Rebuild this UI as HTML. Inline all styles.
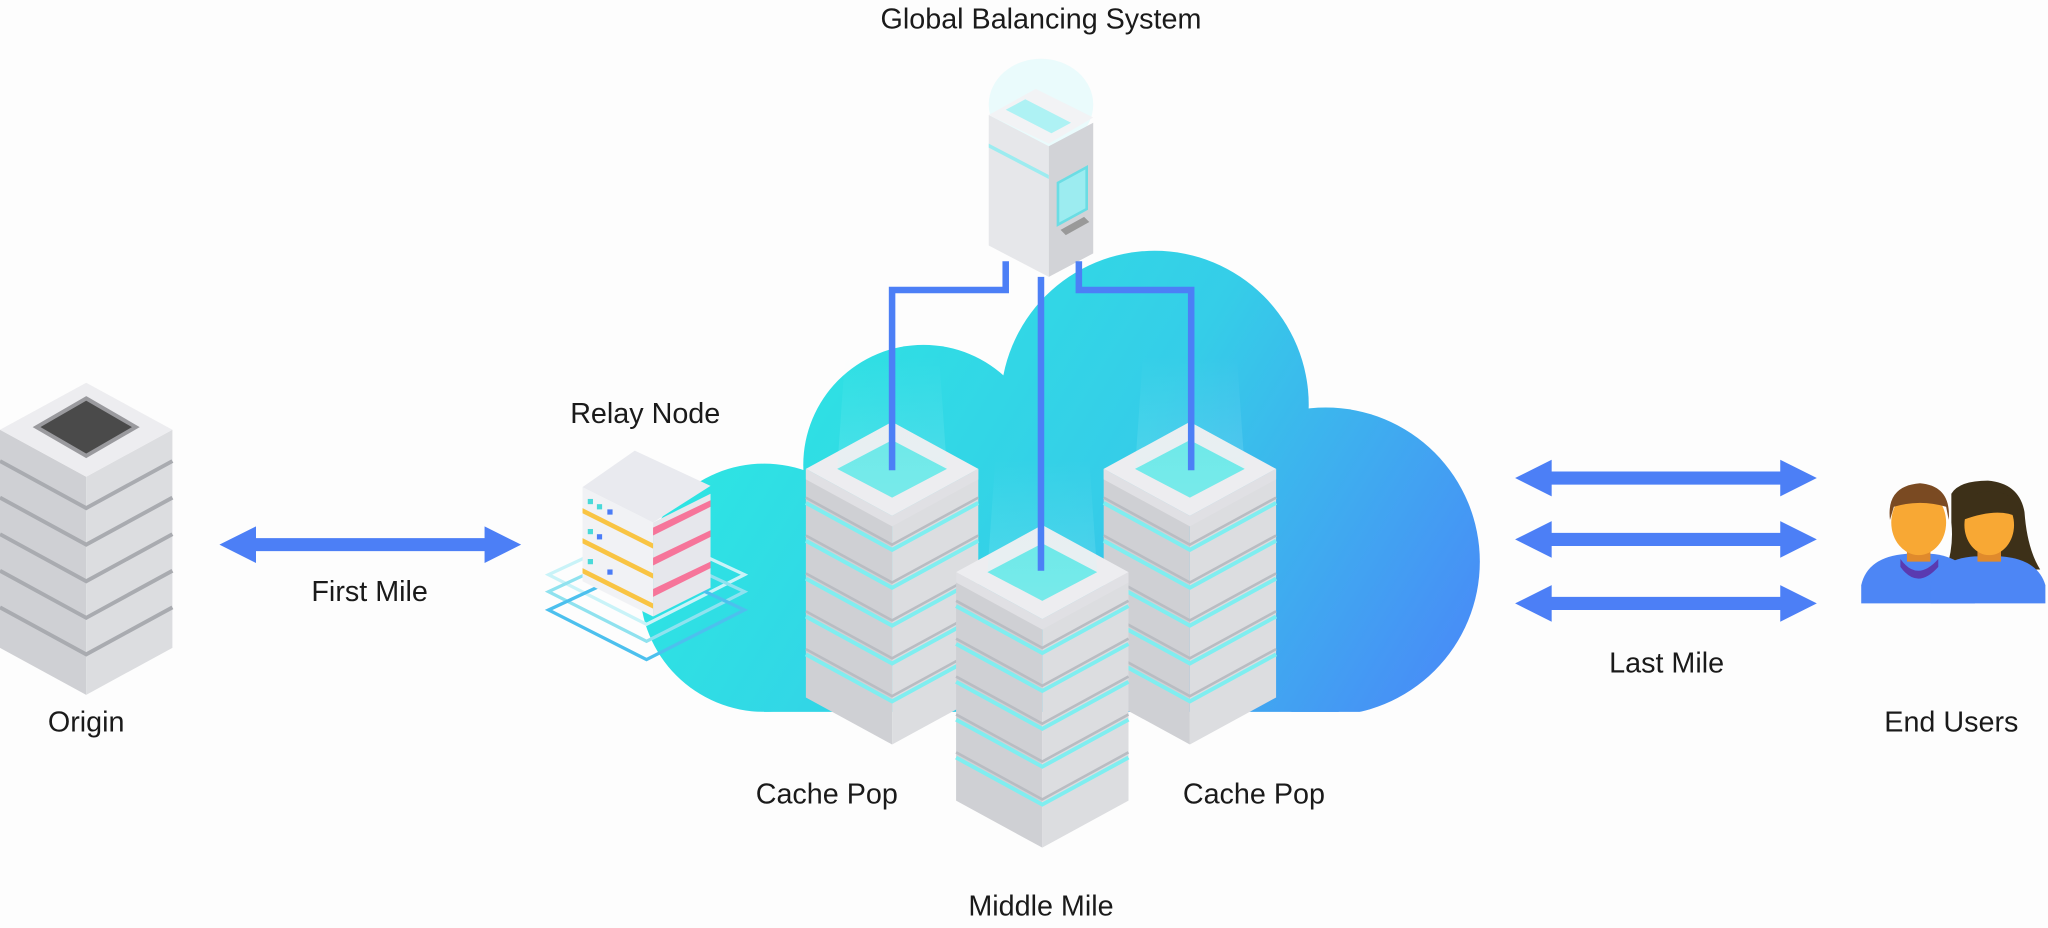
<!DOCTYPE html>
<html><head><meta charset="utf-8"><style>
html,body{margin:0;padding:0;background:#fdfdfd;}
svg{display:block}
text{font-family:"Liberation Sans",sans-serif;font-size:22px;fill:#1a1a1a;text-anchor:middle}
</style></head><body>
<svg width="2048" height="928" viewBox="0 0 1568 710.5" xmlns="http://www.w3.org/2000/svg">
<defs>
<linearGradient id="cg" gradientUnits="userSpaceOnUse" x1="560" y1="220" x2="1120" y2="560">
<stop offset="0" stop-color="#2ce8e2"/><stop offset="0.5" stop-color="#35cde8"/><stop offset="1" stop-color="#4a86f8"/>
</linearGradient>
<linearGradient id="beam" x1="0" y1="1" x2="0" y2="0">
<stop offset="0" stop-color="#c8fbfb" stop-opacity="0.6"/><stop offset="1" stop-color="#c8fbfb" stop-opacity="0"/>
</linearGradient>
<clipPath id="cc"><rect x="0" y="0" width="1568" height="545"/></clipPath>
<g id="cp">
<polygon points="0,36 66,72 66,247 0,211" fill="#cfd0d4"/>
<polygon points="66,72 132,36 132,211 66,247" fill="#dcdde0"/>
<g fill="none" stroke-width="3">
<polyline points="0,62 66,98 132,62" stroke="#7feef0"/>
<polyline points="0,91 66,127 132,91" stroke="#7feef0"/>
<polyline points="0,120 66,156 132,120" stroke="#7feef0"/>
<polyline points="0,149 66,185 132,149" stroke="#7feef0"/>
<polyline points="0,178 66,214 132,178" stroke="#7feef0"/>
<polyline points="0,58 66,94 132,58" stroke="#b9bcc2" stroke-width="2"/>
<polyline points="0,87 66,123 132,87" stroke="#b9bcc2" stroke-width="2"/>
<polyline points="0,116 66,152 132,116" stroke="#b9bcc2" stroke-width="2"/>
<polyline points="0,145 66,181 132,145" stroke="#b9bcc2" stroke-width="2"/>
<polyline points="0,174 66,210 132,174" stroke="#b9bcc2" stroke-width="2"/>
</g>
<polygon points="66,0 132,36 66,72 0,36" fill="#ededf0"/>
<polygon points="0,36 66,72 132,36 132,44 66,80 0,44" fill="#e0e0e4"/>
<polygon points="66,14 108,36 66,58 24,36" fill="#62e6e6"/>
<polygon points="30,-50 102,-50 108,36 66,58 24,36" fill="url(#beam)" opacity="0.35"/>
</g>
<g id="og">
<polygon points="0,36 66,72 66,239 0,203" fill="#cfd0d4"/>
<polygon points="66,72 132,36 132,203 66,239" fill="#dcdde0"/>
<g fill="none" stroke="#a9abb0" stroke-width="3">
<polyline points="0,60 66,96 132,60"/>
<polyline points="0,88 66,124 132,88"/>
<polyline points="0,116 66,152 132,116"/>
<polyline points="0,144 66,180 132,144"/>
<polyline points="0,172 66,208 132,172"/>
</g>
<polygon points="66,0 132,36 66,72 0,36" fill="#ededf0"/>
<polygon points="66,12 104,34 66,56 28,34" fill="#4a4a4a" stroke="#9a9a9e" stroke-width="3"/>
</g>
<g id="ar">
<polygon points="0,0 28,-14 28,-5 203,-5 203,-14 231,0 203,14 203,5 28,5 28,14" fill="#4c7ff6"/>
</g>
</defs>

<!-- cloud -->
<g fill="url(#cg)" clip-path="url(#cc)">
<circle cx="585" cy="450" r="95"/>
<circle cx="707" cy="356" r="92"/>
<circle cx="884" cy="310" r="118"/>
<circle cx="1015" cy="430" r="118"/>
<rect x="585" y="380" width="440" height="170"/>
<rect x="707" y="310" width="200" height="150"/>
</g>

<!-- origin -->
<use href="#og" x="0" y="293"/>

<!-- first mile arrow -->
<use href="#ar" x="168" y="417"/>

<!-- relay node -->
<g fill="none" stroke-width="2.5">
<polygon points="495,405 570,440 495,478 420,440" stroke="#c9f3f8" />
<polygon points="495,418 570,453 495,491 420,453" stroke="#8fe2ef"/>
<polygon points="495,432 570,467 495,505 420,467" stroke="#4cc0ee"/>
</g>
<g>
<polygon points="446,373 500,400 500,472 446,445" fill="#f1f2f5"/>
<polygon points="500,400 544,378 544,450 500,472" fill="#e6e7ec"/>
<polygon points="486,345 544,372 500,400 446,373" fill="#e9eaef"/>
<polygon points="500,404 544,383 544,388 500,410" fill="#f6759a"/>
<polygon points="500,427 544,406 544,411 500,433" fill="#f6759a"/>
<polygon points="500,451 544,430 544,435 500,457" fill="#f6759a"/>
<polygon points="446,389 500,416 500,420 446,393" fill="#f9c443"/>
<polygon points="446,412 500,439 500,443 446,416" fill="#f9c443"/>
<polygon points="446,435 500,462 500,466 446,439" fill="#f9c443"/>
<rect x="450" y="382" width="4" height="4" fill="#49d9d9"/><rect x="457" y="386" width="4" height="4" fill="#49d9d9"/><rect x="465" y="390" width="4" height="4" fill="#4a7cf7"/>
<rect x="450" y="405" width="4" height="4" fill="#49d9d9"/><rect x="457" y="409" width="4" height="4" fill="#4a7cf7"/>
<rect x="450" y="428" width="4" height="4" fill="#49d9d9"/><rect x="465" y="436" width="4" height="4" fill="#4a7cf7"/>
</g>

<!-- servers -->
<use href="#cp" x="617" y="323"/>
<use href="#cp" x="845" y="323"/>
<use href="#cp" x="732" y="402"/>

<!-- global balancing system -->
<ellipse cx="797" cy="80" rx="40" ry="35" fill="#d8fafc" opacity="0.5"/>
<polygon points="757,88 803,112 803,212 757,188" fill="#e6e7ea"/>
<polygon points="803,112 837,94 837,194 803,212" fill="#d2d3d7"/>
<polygon points="793,68 837,90 803,110 757,88" fill="#f2f3f5"/>
<polygon points="770,84 805,102 820,94 785,76" fill="#aef2f4"/>
<polygon points="757,110 803,134 803,137 757,113" fill="#9cecf0"/>
<polygon points="810,140 832,128 832,160 810,172" fill="#9cecf0" stroke="#6bdde4" stroke-width="2"/>
<polygon points="812,176 830,166 834,170 816,180" fill="#999"/>

<!-- connectors -->
<g fill="none" stroke="#4c7ff6" stroke-width="5">
<polyline points="770,200 770,222 683,222 683,360"/>
<polyline points="797,212 797,437"/>
<polyline points="826,200 826,222 912,222 912,360"/>
</g>

<!-- last mile arrows -->
<use href="#ar" x="1160" y="366"/>
<use href="#ar" x="1160" y="413"/>
<use href="#ar" x="1160" y="462"/>

<!-- end users -->
<path d="M1494,378 Q1500,368 1522,368 Q1546,370 1550,392 Q1552,420 1562,436 L1490,436 Q1496,418 1494,400Z" fill="#3d3018"/>
<path d="M1425,462 L1425,448 Q1430,426 1460,424 L1478,424 Q1505,426 1512,448 L1512,462 Z" fill="#4d86f5"/>
<path d="M1478,462 L1478,448 Q1484,428 1512,426 L1532,426 Q1560,428 1566,448 L1566,462 Z" fill="#4d86f5"/>
<path d="M1455,428 Q1468,446 1484,428 L1484,434 Q1468,452 1455,434Z" fill="#5a3ab0"/>
<rect x="1460" y="412" width="18" height="18" fill="#e08a2c"/>
<rect x="1514" y="412" width="18" height="18" fill="#e08a2c"/>
<ellipse cx="1523" cy="402" rx="19" ry="23" fill="#f8a834"/>
<path d="M1503,398 Q1503,376 1525,376 Q1545,377 1545,396 Q1530,388 1503,398Z" fill="#3d3018"/>
<ellipse cx="1469" cy="400" rx="21" ry="25" fill="#f8a834"/>
<path d="M1447,398 Q1444,372 1470,370 Q1494,372 1492,398 L1490,388 Q1470,382 1450,388Z" fill="#7a4a22"/>

<!-- labels -->
<text x="797" y="22">Global Balancing System</text>
<text x="494" y="324">Relay Node</text>
<text x="283" y="460">First Mile</text>
<text x="66" y="560">Origin</text>
<text x="633" y="615">Cache Pop</text>
<text x="960" y="615">Cache Pop</text>
<text x="797" y="701">Middle Mile</text>
<text x="1276" y="515">Last Mile</text>
<text x="1494" y="560">End Users</text>
</svg>
</body></html>
